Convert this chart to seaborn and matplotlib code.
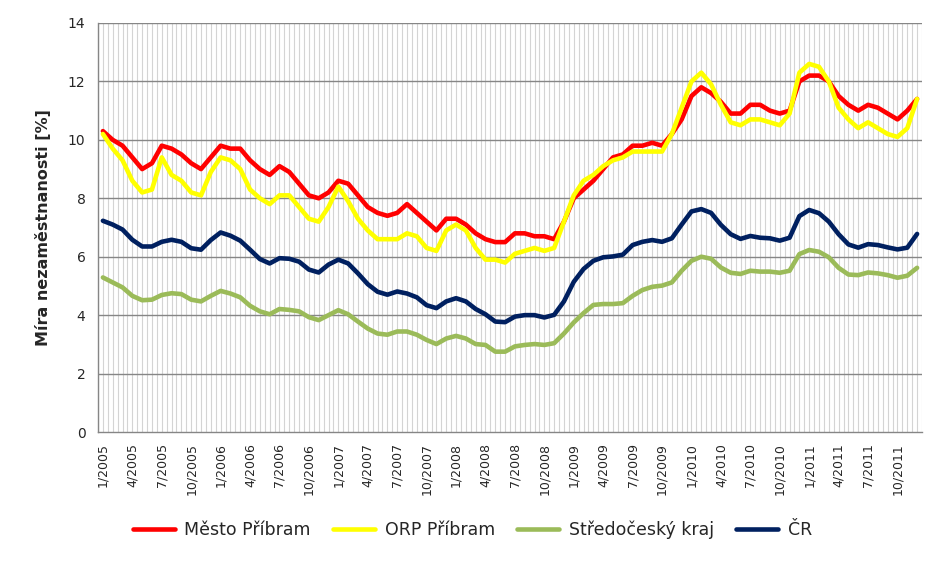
import numpy as np
import pandas as pd
import matplotlib
matplotlib.use("Agg")
import matplotlib.pyplot as plt
import seaborn as sns
from matplotlib.lines import Line2D

# ---- data (monthly 1/2005 - 12/2011) ----
mesto_pribram = [10.3, 10.0, 9.8, 9.4, 9.0, 9.2, 9.8, 9.7, 9.5, 9.2, 9.0, 9.4,
                 9.8, 9.7, 9.7, 9.3, 9.0, 8.8, 9.1, 8.9, 8.5, 8.1, 8.0, 8.2,
                 8.6, 8.5, 8.1, 7.7, 7.5, 7.4, 7.5, 7.8, 7.5, 7.2, 6.9, 7.3,
                 7.3, 7.1, 6.8, 6.6, 6.5, 6.5, 6.8, 6.8, 6.7, 6.7, 6.6, 7.2,
                 8.0, 8.3, 8.6, 9.0, 9.4, 9.5, 9.8, 9.8, 9.9, 9.8, 10.2, 10.7,
                 11.5, 11.8, 11.6, 11.3, 10.9, 10.9, 11.2, 11.2, 11.0, 10.9, 11.0, 12.0,
                 12.2, 12.2, 12.0, 11.5, 11.2, 11.0, 11.2, 11.1, 10.9, 10.7, 11.0, 11.4]
orp_pribram = [10.2, 9.7, 9.3, 8.6, 8.2, 8.3, 9.4, 8.8, 8.6, 8.2, 8.1, 8.9,
               9.4, 9.3, 9.0, 8.3, 8.0, 7.8, 8.1, 8.1, 7.7, 7.3, 7.2, 7.7,
               8.4, 7.9, 7.3, 6.9, 6.6, 6.6, 6.6, 6.8, 6.7, 6.3, 6.2, 6.9,
               7.1, 6.9, 6.3, 5.9, 5.9, 5.8, 6.1, 6.2, 6.3, 6.2, 6.3, 7.2,
               8.1, 8.6, 8.8, 9.1, 9.3, 9.4, 9.6, 9.6, 9.6, 9.6, 10.2, 11.1,
               12.0, 12.3, 11.9, 11.2, 10.6, 10.5, 10.7, 10.7, 10.6, 10.5, 10.9, 12.3,
               12.6, 12.5, 12.0, 11.1, 10.7, 10.4, 10.6, 10.4, 10.2, 10.1, 10.4, 11.4]
stredocesky_kraj = [5.29, 5.12, 4.95, 4.66, 4.51, 4.53, 4.69, 4.75, 4.72, 4.53, 4.47, 4.66,
                    4.83, 4.74, 4.61, 4.32, 4.13, 4.03, 4.21, 4.18, 4.13, 3.93, 3.83, 4.00,
                    4.17, 4.03, 3.78, 3.54, 3.37, 3.33, 3.44, 3.44, 3.33, 3.15, 3.01, 3.20,
                    3.29, 3.20, 3.01, 2.98, 2.75, 2.75, 2.93, 2.98, 3.01, 2.98, 3.04, 3.37,
                    3.75, 4.07, 4.35, 4.38, 4.38, 4.41, 4.66, 4.86, 4.97, 5.01, 5.12, 5.52,
                    5.86, 6.00, 5.93, 5.63, 5.45, 5.41, 5.52, 5.49, 5.49, 5.45, 5.52, 6.09,
                    6.23, 6.17, 5.98, 5.62, 5.39, 5.37, 5.46, 5.43, 5.37, 5.28, 5.35, 5.62]
cr = [7.23, 7.10, 6.93, 6.58, 6.35, 6.35, 6.51, 6.58, 6.51, 6.29, 6.24, 6.57,
      6.83, 6.72, 6.55, 6.24, 5.92, 5.77, 5.95, 5.93, 5.83, 5.56, 5.46, 5.73,
      5.90, 5.77, 5.43, 5.06, 4.80, 4.70, 4.81, 4.74, 4.61, 4.34, 4.24, 4.47,
      4.58, 4.47, 4.21, 4.03, 3.78, 3.76, 3.95, 4.00, 4.00, 3.92, 4.01, 4.47,
      5.14, 5.58, 5.86, 5.98, 6.01, 6.07, 6.40, 6.51, 6.57, 6.51, 6.63, 7.10,
      7.55, 7.63, 7.50, 7.09, 6.77, 6.61, 6.71, 6.65, 6.63, 6.55, 6.65, 7.39,
      7.60, 7.49, 7.20, 6.77, 6.42, 6.31, 6.43, 6.40, 6.32, 6.25, 6.31, 6.78]

tick_labels = ["1/2005", "4/2005", "7/2005", "10/2005",
               "1/2006", "4/2006", "7/2006", "10/2006",
               "1/2007", "4/2007", "7/2007", "10/2007",
               "1/2008", "4/2008", "7/2008", "10/2008",
               "1/2009", "4/2009", "7/2009", "10/2009",
               "1/2010", "4/2010", "7/2010", "10/2010",
               "1/2011", "4/2011", "7/2011", "10/2011"]

series_names = ["Město Příbram", "ORP Příbram", "Středočeský kraj", "ČR"]
series_colors = ["#FF0000", "#FFFF00", "#9BBB59", "#002060"]

n = len(mesto_pribram)
idx = np.arange(n)
df = pd.concat([
    pd.DataFrame({"i": idx, "val": vals, "serie": name})
    for name, vals in zip(series_names,
                          [mesto_pribram, orp_pribram, stredocesky_kraj, cr])
])

sns.set_theme(style="white")
plt.rcParams["font.family"] = ["DejaVu Sans"]

fig = plt.figure(figsize=(9.45, 5.63), dpi=100)
ax = fig.add_axes([98 / 945, 1 - 432 / 563, (922 - 98) / 945, (432 - 23) / 563])

# vertical light gridlines (half-month spacing)
for xv in np.arange(-0.5, n, 0.5):
    ax.axvline(xv, color="#D4D4D4", lw=0.8, zorder=0)
# horizontal gridlines
for yv in np.arange(2, 15, 2):
    ax.axhline(yv, color="#868686", lw=1.0, zorder=0.5)

sns.lineplot(data=df, x="i", y="val", hue="serie", hue_order=series_names,
             palette=series_colors, lw=3.3, ax=ax, legend=False, zorder=3)

ax.set_xlim(-0.5, n - 0.5)
ax.set_ylim(0, 14)
ax.set_yticks(np.arange(0, 15, 2))
ax.set_yticklabels([str(v) for v in range(0, 15, 2)], fontsize=10)
ax.set_xticks(np.arange(0, n, 3))
ax.set_xticklabels(tick_labels, rotation=90, fontsize=9)
ax.set_xticks(np.arange(-0.5, n, 1), minor=True)
ax.tick_params(axis="x", which="major", length=0, pad=8)
ax.tick_params(axis="x", which="minor", length=5, color="#868686", width=1, direction="out")
ax.tick_params(axis="y", length=5, color="#868686", width=1, direction="out", pad=4)
ax.set_xlabel("")
ax.set_ylabel("Míra nezaměstnanosti [%]", fontsize=11.5, fontweight="bold", labelpad=12)

for s in ["top", "right"]:
    ax.spines[s].set_visible(False)
for s in ["left", "bottom"]:
    ax.spines[s].set_color("#868686")
    ax.spines[s].set_linewidth(1.0)

handles = [Line2D([0], [0], color=c, lw=3.3) for c in series_colors]
fig.legend(handles, series_names, loc="center", bbox_to_anchor=(0.5, 1 - 530 / 563),
           ncol=4, frameon=False, fontsize=12.5, handlelength=2.4,
           columnspacing=1.3, handletextpad=0.55)

fig.savefig("out.png", dpi=100)
